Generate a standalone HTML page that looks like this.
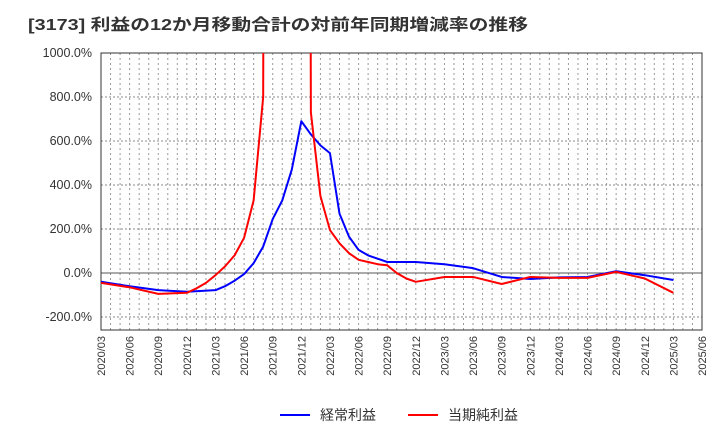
<!DOCTYPE html>
<html><head><meta charset="utf-8"><style>
body{margin:0;background:#fff;font-family:"Liberation Sans","Noto Sans CJK JP",sans-serif}
</style></head><body>
<svg id="c" width="720" height="440" xmlns="http://www.w3.org/2000/svg">
<text x="28" y="30" font-size="16" font-weight="bold" fill="#333" textLength="500" lengthAdjust="spacingAndGlyphs" font-family="Liberation Sans, Noto Sans CJK JP, sans-serif">[3173]  利益の12か月移動合計の対前年同期増減率の推移</text>
<g id="grid"></g><g id="axes"></g>
<defs><clipPath id="clip"><rect x="101" y="53" width="601" height="277"/></clipPath></defs>
<g id="series" clip-path="url(#clip)"></g>
<g>
<line x1="280" y1="415" x2="310" y2="415" stroke="#0000ff" stroke-width="2"/>
<text x="320" y="420" font-size="14" fill="#333">経常利益</text>
<line x1="408" y1="415" x2="438" y2="415" stroke="#ff0000" stroke-width="2"/>
<text x="448" y="420" font-size="14" fill="#333">当期純利益</text>
</g>
</svg>
<script>
const yTicks=[1000,800,600,400,200,0,-200];
const xTickLabels=["2020/03","2020/06","2020/09","2020/12","2021/03","2021/06","2021/09","2021/12","2022/03","2022/06","2022/09","2022/12","2023/03","2023/06","2023/09","2023/12","2024/03","2024/06","2024/09","2024/12","2025/03","2025/06"];
const blueMonths=[0,3,6,9,12,13,14,15,16,17,18,19,20,21,22,23,24,25,26,27,28,29,30,33,36,39,42,45,48,51,54,57,60];
const blueValues=[-40,-60,-78,-85,-78,-60,-35,-5,45,120,245,330,470,690,630,580,545,270,165,105,80,65,50,50,40,22,-18,-27,-20,-18,8,-10,-32];
const redMonths=[0,3,6,9,10,11,12,13,14,15,16,17,18,19,20,21,22,23,24,25,26,27,28,29,30,31,32,33,36,39,42,45,48,51,54,57,60];
const redValues=[-45,-65,-95,-90,-70,-45,-10,30,80,160,330,800,20000,20000,20000,20000,730,350,195,135,90,60,50,40,35,0,-25,-40,-18,-18,-50,-18,-22,-22,5,-25,-90];
const NS="http://www.w3.org/2000/svg";
const X0=101,X1=702,Y0=53,Y1=330;
const xs=m=>X0+(X1-X0)*m/63;
const ys=v=>273-v*0.22;
function mk(t,a,p){const e=document.createElementNS(NS,t);for(const k in a)e.setAttribute(k,a[k]);p.appendChild(e);return e;}
const grid=document.getElementById('grid'),axes=document.getElementById('axes'),ser=document.getElementById('series');
for(let m=1;m<63;m++){const l=mk('line',{x1:xs(m),x2:xs(m),y1:Y0,y2:Y1,stroke:'#999','stroke-dasharray':'2,3','stroke-width':1},grid);

}
yTicks.forEach(v=>{const y=ys(v);
const l=mk('line',{x1:X0,x2:X1,y1:y,y2:y,stroke:v===0?'#555':'#888','stroke-dasharray':v===0?'':'2,2','stroke-width':1},grid);


const t=mk('text',{x:X0-9,y:y+4,'text-anchor':'end','font-size':12.5,fill:'#333'},axes);t.textContent=v.toFixed(1)+'%';

});
xTickLabels.forEach((s,i)=>{const x=xs(i*3);const t=mk('text',{x:x+4,y:Y1+6,'text-anchor':'end','font-size':11,fill:'#333',transform:`rotate(-90 ${x+4} ${Y1+6})`},axes);t.textContent=s;

});
const fr=mk('rect',{x:X0,y:Y0,width:X1-X0,height:Y1-Y0,fill:'none',stroke:'#333','stroke-width':1},axes);


function line(ms,vs,col,name){const p=mk('polyline',{points:ms.map((m,i)=>xs(m)+','+ys(vs[i])).join(' '),fill:'none',stroke:col,'stroke-width':2,'stroke-linejoin':'round'},ser);

}
line(blueMonths,blueValues,'#0000ff','keijo-line');
line(redMonths,redValues,'#ff0000','junrieki-line');
</script>
</body></html>
